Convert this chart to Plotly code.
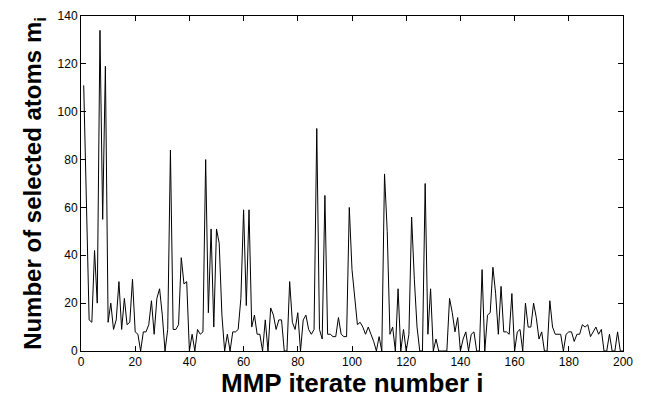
import plotly.graph_objects as go

iterations = list(range(1, 201))
selected_atoms = [
    111, 60, 13, 12, 42, 20, 134, 55, 119, 12,
    20, 9, 13, 29, 9, 22, 11, 12, 30, 8,
    7, 0, 8, 8, 11, 21, 7, 22, 26, 15,
    0, 9, 84, 9, 9, 11, 39, 28, 29, 0,
    7, 0, 9, 7, 8, 80, 16, 51, 10, 51,
    45, 15, 0, 7, 0, 8, 8, 9, 22, 59,
    19, 59, 10, 15, 7, 7, 0, 13, 0, 18,
    15, 9, 13, 13, 0, 0, 29, 12, 9, 16,
    0, 13, 15, 9, 7, 9, 93, 9, 5, 65,
    7, 7, 6, 6, 14, 7, 6, 6, 60, 34,
    22, 11, 12, 10, 7, 10, 7, 4, 0, 6,
    0, 74, 50, 7, 10, 0, 26, 0, 9, 0,
    7, 56, 30, 10, 0, 0, 70, 7, 26, 0,
    5, 0, 0, 0, 0, 22, 16, 8, 14, 0,
    5, 8, 0, 7, 8, 0, 0, 34, 0, 15,
    16, 35, 24, 7, 27, 8, 8, 7, 24, 0,
    8, 9, 0, 20, 10, 10, 20, 14, 5, 8,
    0, 0, 21, 10, 7, 7, 7, 0, 7, 8,
    8, 4, 7, 7, 11, 10, 11, 6, 8, 10,
    7, 9, 0, 0, 7, 0, 0, 8, 0, 0,
]
x_ticks = [0, 20, 40, 60, 80, 100, 120, 140, 160, 180, 200]
y_ticks = [0, 20, 40, 60, 80, 100, 120, 140]
x_title = "MMP iterate number i"
y_title = "Number of selected atoms m<sub>i</sub>"

fig = go.Figure(go.Scatter(
    x=iterations, y=selected_atoms, mode="lines",
    line=dict(color="black", width=1), showlegend=False,
))

axis_common = dict(
    showline=True, linecolor="black", linewidth=1, mirror="ticks",
    ticks="inside", ticklen=5, tickcolor="black", showgrid=False,
    zeroline=False, automargin=False,
    tickfont=dict(family="Liberation Sans, Arial", size=12, color="black"),
)

# page body adds an 8px offset; size the figure so it fits the 647x403 window
fig_w, fig_h = 639, 395
m_l, m_r, m_t, m_b = 73, 24, 8, 52
plot_h = fig_h - m_t - m_b

fig.update_layout(
    width=fig_w, height=fig_h,
    margin=dict(l=m_l, r=m_r, t=m_t, b=m_b),
    paper_bgcolor="white", plot_bgcolor="white",
    xaxis=dict(range=[0, 200], tickvals=x_ticks, **axis_common),
    yaxis=dict(range=[0, 140], tickvals=y_ticks,
               title=dict(text="<b>" + y_title + "</b>", standoff=9,
                          font=dict(family="Liberation Sans, Arial", size=24, color="black")),
               **axis_common),
    annotations=[dict(
        text="<b>" + x_title + "</b>", xref="paper", yref="paper",
        x=0.5, y=-32 / plot_h, xanchor="center", yanchor="middle",
        showarrow=False, borderpad=0,
        font=dict(family="Liberation Sans, Arial", size=26, color="black"),
    )],
)

fig.write_html("out.html")
